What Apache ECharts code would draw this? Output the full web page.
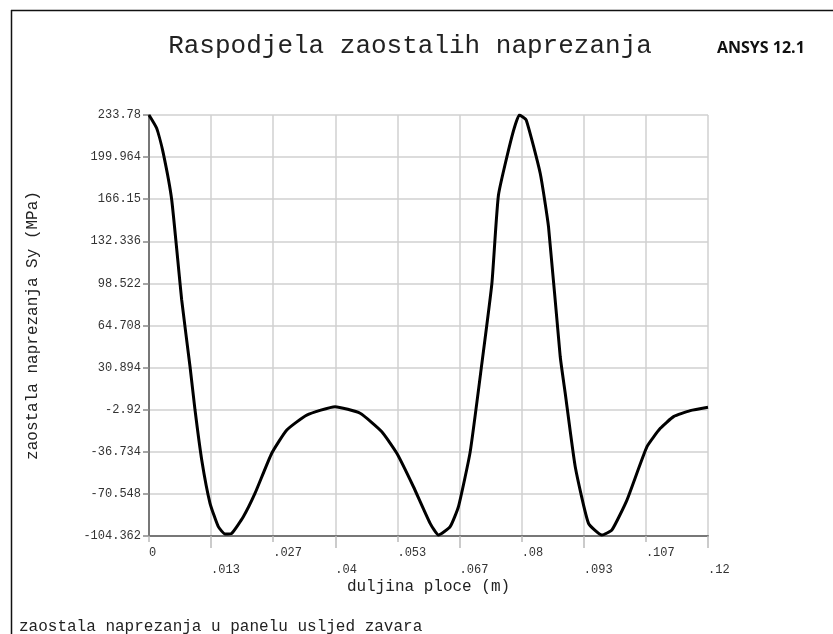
<!DOCTYPE html>
<html>
<head>
<meta charset="utf-8">
<script src="https://cdn.jsdelivr.net/npm/echarts@6/dist/echarts.min.js"></script>
<style>
html,body{margin:0;padding:0;background:#fff;}
#chart{width:833px;height:634px;}
</style>
</head>
<body>
<div id="chart"></div>
<script>
// ---- data ----
const xTickLabels = ['0', '.013', '.027', '.04', '.053', '.067', '.08', '.093', '.107', '.12'];
const yTickLabels = ['-104.362', '-70.548', '-36.734', '-2.92', '30.894', '64.708', '98.522', '132.336', '166.15', '199.964', '233.78'];
const yMin = -104.362;
const yMax = 233.78;
const xMin = 0;
const xMax = 0.12;

// duljina ploce (m)
const positions = [
  0, 0.00165, 0.00307, 0.00488, 0.00702, 0.00881, 0.00988, 0.01132, 0.0131, 0.01488,
  0.01632, 0.01776, 0.02025, 0.02277, 0.02635, 0.02958, 0.03387, 0.03995, 0.04532, 0.04998,
  0.0532, 0.05677, 0.06035, 0.06214, 0.06465, 0.06643, 0.06894, 0.07146, 0.07361, 0.07502,
  0.0779, 0.0795, 0.08097, 0.08398, 0.08576, 0.08828, 0.08935, 0.0915, 0.09435, 0.09723,
  0.09938, 0.1026, 0.1069, 0.10976, 0.11261, 0.1162, 0.12
];
// zaostala naprezanja Sy (MPa)
const stress = [
  233.78, 223.1, 203.0, 165.5, 85.2, 31.6, -3.2, -43.3, -78.1, -96.9,
  -102.8, -102.2, -88.9, -70.0, -37.9, -19.2, -7.2, -0.5, -5.8, -20.6,
  -37.9, -64.8, -94.2, -103.6, -96.9, -80.8, -37.0, 34.3, 98.6, 169.5,
  216.4, 233.78, 229.8, 187.0, 144.1, 39.6, 10.3, -48.7, -94.2, -103.6,
  -99.5, -75.5, -32.6, -17.9, -8.5, -3.7, -1.0
];

const mono = '"Liberation Mono", "DejaVu Sans Mono", monospace';
const chart = echarts.init(document.getElementById('chart'));
const seriesData = positions.map((x, i) => [x, stress[i]]);

chart.setOption({
  animation: false,
  backgroundColor: '#fff',
  title: [
    { text: 'Raspodjela zaostalih naprezanja', left: 405, top: 28, textAlign: 'center',
      textStyle: { fontFamily: mono, fontSize: 26, fontWeight: 'normal', color: '#222' } },
    { text: 'ANSYS 12.1', left: 712, top: 35,
      textStyle: { fontFamily: '"Open Sans", "Liberation Sans", sans-serif', fontSize: 16, fontWeight: 'bold', color: '#111' } },
    { text: 'zaostala naprezanja u panelu usljed zavara', left: 14, top: 614,
      textStyle: { fontFamily: mono, fontSize: 16, fontWeight: 'normal', color: '#222' } }
  ],
  graphic: [
    { type: 'line', shape: { x1: 11, y1: 10.5, x2: 833, y2: 10.5 }, style: { stroke: '#111', lineWidth: 1.5 } },
    { type: 'line', shape: { x1: 11.5, y1: 10, x2: 11.5, y2: 634 }, style: { stroke: '#111', lineWidth: 1.5 } }
  ],
  grid: { left: 149, right: 125, top: 115, bottom: 98, containLabel: false },
  xAxis: [
    { type: 'value', min: xMin, max: xMax, show: false },
    { type: 'category', data: xTickLabels, boundaryGap: false, position: 'bottom',
      axisLine: { show: true, lineStyle: { color: '#777', width: 2 } },
      axisTick: { show: true, length: 6, interval: (i) => i % 2 === 0, lineStyle: { color: '#bbb', width: 1.5 } },
      axisLabel: { interval: (i) => i % 2 === 0, align: 'left', margin: 11,
        fontFamily: mono, fontSize: 12, color: '#333' },
      splitLine: { show: true, interval: 0, lineStyle: { color: '#d0d0d0', width: 1.5 } },
      name: 'duljina ploce (m)', nameLocation: 'middle', nameGap: 43,
      nameTextStyle: { fontFamily: mono, fontSize: 16, color: '#222' }
    },
    { type: 'category', data: xTickLabels, boundaryGap: false, position: 'bottom',
      axisLine: { show: false },
      axisTick: { show: true, length: 12, interval: (i) => i % 2 === 1, lineStyle: { color: '#bbb', width: 1.5 } },
      axisLabel: { interval: (i) => i % 2 === 1, align: 'left', margin: 28,
        fontFamily: mono, fontSize: 12, color: '#333' },
      splitLine: { show: false }
    }
  ],
  yAxis: [
    { type: 'value', min: yMin, max: yMax, show: false },
    { type: 'value', min: 0, max: yTickLabels.length - 1, interval: 1, position: 'left',
      axisLine: { show: true, lineStyle: { color: '#777', width: 2 } },
      axisTick: { show: true, length: 6, lineStyle: { color: '#888', width: 1.5 } },
      axisLabel: { margin: 8, formatter: (v) => yTickLabels[Math.round(v)],
        fontFamily: mono, fontSize: 12, color: '#333' },
      splitLine: { show: true, lineStyle: { color: '#d0d0d0', width: 1.5 } },
      name: 'zaostala naprezanja Sy (MPa)', nameLocation: 'middle', nameGap: 108,
      nameTextStyle: { fontFamily: mono, fontSize: 16, color: '#222' }
    }
  ],
  series: [
    { type: 'line', xAxisIndex: 0, yAxisIndex: 0, data: seriesData,
      showSymbol: false, smooth: 0.15, z: 5,
      lineStyle: { color: '#000', width: 3 } }
  ]
});
</script>
</body>
</html>
